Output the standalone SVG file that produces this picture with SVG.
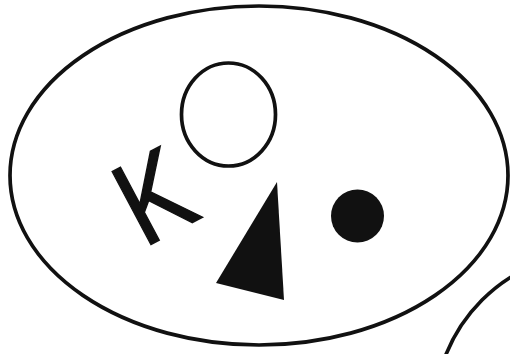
<svg xmlns="http://www.w3.org/2000/svg" width="510" height="354" viewBox="0 0 510 354">
<style>
.ol{fill:none;stroke:#111;stroke-width:3.7}
.fill{fill:#111}
.k{font-family:"Liberation Sans",Arial,sans-serif;font-size:120px;fill:#111;stroke:#111;stroke-width:1.5}
</style>
<rect width="510" height="354" fill="#fff"/>
<g id="outer-ellipse"><ellipse class="ol" cx="259" cy="175.5" rx="249" ry="169.5"/></g>
<g id="second-ellipse"><circle class="ol" cx="598" cy="416" r="164"/></g>
<g id="open-circle"><ellipse class="ol" cx="228.5" cy="114.5" rx="47" ry="51.5"/></g>
<g id="letter-k"><text class="k" transform="translate(143.4,248.5) rotate(-28) scale(0.85,1)">K</text></g>
<g id="triangle"><polygon class="fill" points="277,182 284,300 216,283"/></g>
<g id="filled-circle"><circle class="fill" cx="357.5" cy="216" r="26.5"/></g>
<g id="connectors"></g>
</svg>
